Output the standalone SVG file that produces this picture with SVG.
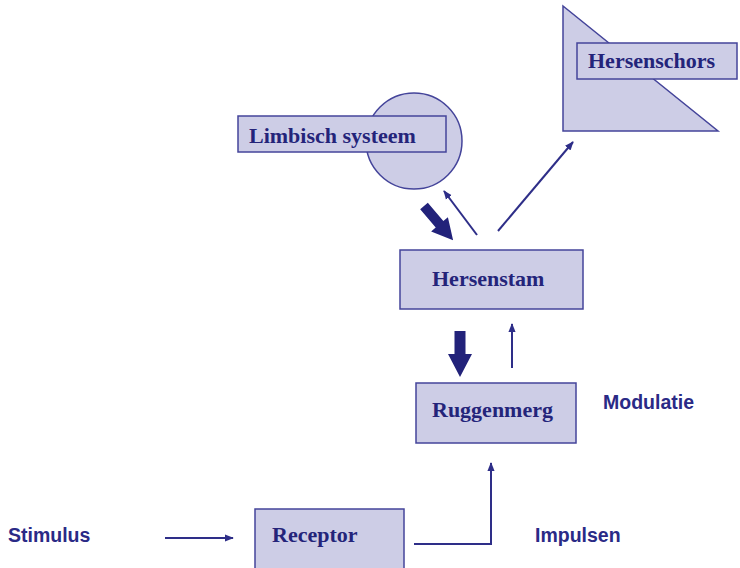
<svg xmlns="http://www.w3.org/2000/svg" width="740" height="568" viewBox="0 0 740 568">
<defs>
<style>
.shape{fill:#cdcde6;stroke:#44449a;stroke-width:1.5}
.lbl{font-family:"Liberation Serif","Times New Roman",serif;font-weight:bold;font-size:22px;fill:#24247a}
.side{font-family:"Liberation Sans",Arial,sans-serif;font-weight:bold;font-size:19.5px;fill:#2a2a86}
.conn{fill:none;stroke:#2e2e88;stroke-width:2}
.thick{fill:#22227a;stroke:none}
</style>
<marker id="ahs" viewBox="0 0 10 10" refX="9" refY="5" markerWidth="9" markerHeight="9" orient="auto" markerUnits="userSpaceOnUse">
<path d="M0,1 L10,5 L0,9 z" fill="#2e2e88"/>
</marker>
</defs>
<rect width="740" height="568" fill="#ffffff"/>
<g id="hersenschors">
<polygon class="shape" points="563,6 563,131 718,131"/>
<rect class="shape" x="577" y="43" width="160" height="36"/>
<text class="lbl" x="588" y="68">Hersenschors</text>
</g>
<g id="limbisch">
<circle class="shape" cx="414" cy="141" r="48"/>
<rect class="shape" x="238" y="116" width="208" height="36"/>
<text class="lbl" x="249" y="143">Limbisch systeem</text>
</g>
<g id="hersenstam">
<rect class="shape" x="400" y="250" width="183" height="59"/>
<text class="lbl" x="432" y="286">Hersenstam</text>
</g>
<g id="ruggenmerg">
<rect class="shape" x="416" y="383" width="160" height="60"/>
<text class="lbl" x="432" y="417">Ruggenmerg</text>
</g>
<g id="receptor">
<rect class="shape" x="255" y="509" width="149" height="62"/>
<text class="lbl" x="272" y="542">Receptor</text>
</g>
<g id="labels">
<text class="side" x="8" y="542">Stimulus</text>
<text class="side" x="603" y="409">Modulatie</text>
<text class="side" x="535" y="542">Impulsen</text>
</g>
<g id="connectors">
<line class="conn" x1="165" y1="538" x2="233" y2="538" marker-end="url(#ahs)"/>
<polyline class="conn" points="414,544 491,544 491,463" marker-end="url(#ahs)"/>
<line class="conn" x1="512" y1="368" x2="512" y2="324" marker-end="url(#ahs)"/>
<line class="conn" x1="477" y1="235" x2="444" y2="191" marker-end="url(#ahs)"/>
<line class="conn" x1="498" y1="231" x2="573" y2="142" marker-end="url(#ahs)"/>
<polygon class="thick" points="454.5,331 465.5,331 465.5,354 472,354 460,377 448,354 454.5,354"/>
<polygon class="thick" transform="translate(424,206) rotate(49.7)" points="0,-5 24,-5 24,-11 45,0 24,11 24,5 0,5"/>
</g>
</svg>
